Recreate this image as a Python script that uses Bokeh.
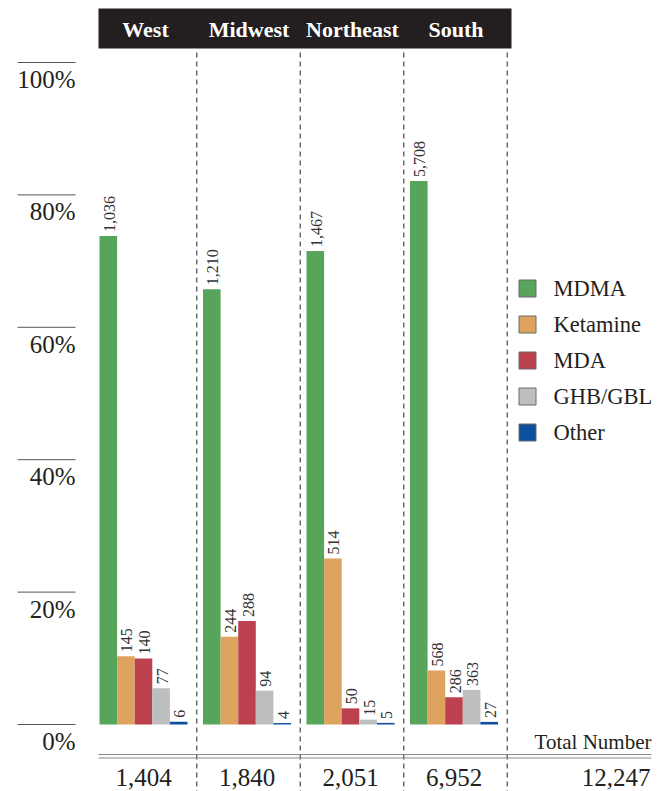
import math
from bokeh.plotting import figure
from bokeh.models import Range1d, ColumnDataSource
from bokeh.core.properties import value
from bokeh.embed import file_html
from bokeh.resources import INLINE

# ---------------- data ----------------
regions = ["West", "Midwest", "Northeast", "South"]
drugs = ["MDMA", "Ketamine", "MDA", "GHB/GBL", "Other"]
mdma = [1036, 1210, 1467, 5708]
ketamine = [145, 244, 514, 568]
mda = [140, 288, 50, 286]
ghb_gbl = [77, 94, 15, 363]
other = [6, 4, 5, 27]
region_totals = [1404, 1840, 2051, 6952]
grand_total = 12247
total_label = "Total Number"
y_ticks = [0, 20, 40, 60, 80, 100]
y_tick_labels = ["0%", "20%", "40%", "60%", "80%", "100%"]
colors = ["#57a55a", "#dea35e", "#bb414e", "#bdbebf", "#0c4f9c"]

series = [mdma, ketamine, mda, ghb_gbl, other]

# ---------------- layout constants ----------------
FONT = value("Liberation Serif")
INK = "#231f20"
PX = 6.62          # pixels per percent
BASE = 724         # page y of the 0% line
W, H = 670, 791


def Y(py):
    """page pixel y -> data y (percent)"""
    return (BASE - py) / PX


G0, STEP, BW = 143.0, 103.5, 17.6
centers = [G0 + i * STEP for i in range(len(regions))]

p = figure(width=W, height=H, output_backend="svg", toolbar_location=None,
           x_range=Range1d(0, W), y_range=Range1d(Y(H), Y(0)),
           min_border=0, outline_line_color=None, background_fill_color="white",
           border_fill_color="white")
p.axis.visible = False
p.grid.visible = False

# header band
p.quad(left=[98], right=[511], top=[Y(8)], bottom=[Y(48)], color=INK, line_color=None)
p.text(x=[c + 2 for c in centers], y=[Y(29)] * len(regions), text=regions,
       text_font=FONT, text_font_style="bold", text_font_size="22px",
       text_color="white", text_align="center", text_baseline="middle")

# dashed separators
seps = [c + STEP / 2 + 1.5 for c in centers]
p.segment(x0=seps, x1=seps, y0=[Y(52)] * len(seps), y1=[Y(H)] * len(seps),
          line_color="#555555", line_width=1.3, line_dash="5 4")

# y ticks (overline style)
p.segment(x0=[17] * len(y_ticks), x1=[75] * len(y_ticks), y0=y_ticks, y1=y_ticks,
          line_color="#555555", line_width=1)
p.text(x=[75] * len(y_ticks), y=[t - 17 / PX for t in y_ticks], text=y_tick_labels,
       text_font=FONT, text_font_size="25px", text_color=INK,
       text_align="right", text_baseline="middle")

# bars
for j, (name, vals, col) in enumerate(zip(drugs, series, colors)):
    xs = [c + (j - 2) * BW for c in centers]
    pct = [v / t * 100 for v, t in zip(vals, region_totals)]
    src = ColumnDataSource(dict(x=xs, top=pct, lab=[f"{v:,}" for v in vals],
                                ly=[q + 4 / PX for q in pct], lx=[x + 1 for x in xs]))
    p.vbar(x="x", top="top", bottom=0, width=BW, source=src, color=col, line_color=None)
    p.text(x="lx", y="ly", text="lab", source=src, angle=math.pi / 2,
           text_font=FONT, text_font_size="16px", text_color="#333333",
           text_align="left", text_baseline="middle")

# legend
ly = [Y(288 + 36 * j) for j in range(len(drugs))]
p.rect(x=[527] * len(drugs), y=ly, width=17, height=17, width_units="screen",
       height_units="screen", fill_color=colors, line_color="#6b6b6b", line_width=1)
p.text(x=[553] * len(drugs), y=ly, text=drugs, text_font=FONT, text_font_size="22.5px",
       text_color=INK, text_align="left", text_baseline="middle")

# total row
p.segment(x0=[98, 98], x1=[651, 651], y0=[Y(754), Y(757.5)], y1=[Y(754), Y(757.5)],
          line_color="#8a8a8a", line_width=1.2)
p.text(x=[651], y=[Y(741)], text=[total_label], text_font=FONT, text_font_size="21px",
       text_color=INK, text_align="right", text_baseline="middle")
p.text(x=centers, y=[Y(777)] * len(centers), text=[f"{t:,}" for t in region_totals],
       text_font=FONT, text_font_size="25px", text_color=INK,
       text_align="center", text_baseline="middle")
p.text(x=[650], y=[Y(777)], text=[f"{grand_total:,}"], text_font=FONT,
       text_font_size="25px", text_color=INK, text_align="right", text_baseline="middle")

open("out.html", "w").write(file_html(p, INLINE))
